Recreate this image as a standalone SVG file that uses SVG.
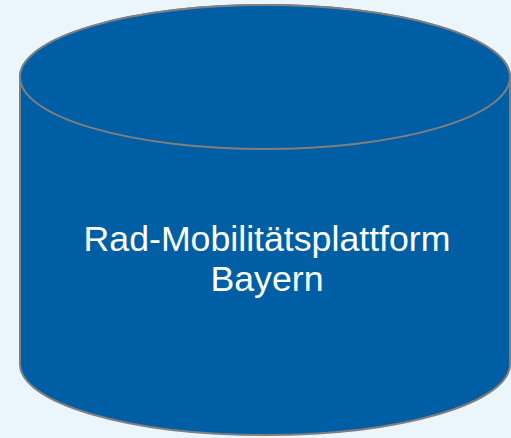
<svg xmlns="http://www.w3.org/2000/svg" width="511" height="438" viewBox="0 0 511 438">
<style>
.body{fill:#005FA4;stroke:#7F7F7F;stroke-width:2}
.lbl{font-family:"Liberation Sans",Arial,sans-serif;font-size:35.7px;fill:#FFFFFF;text-anchor:middle}
</style>
<rect width="511" height="438" fill="#EAF5FC"/>
<g id="cylinder">
<path class="body" d="M20,77 L20,364 A245,71 0 0 0 510,364 L510,77 A245,72 0 0 0 20,77 Z"/>
<ellipse class="body" cx="265" cy="77" rx="245" ry="72"/>
<text class="lbl" x="267" y="251">Rad-Mobilitätsplattform</text>
<text class="lbl" x="267" y="291">Bayern</text>
</g>
<g id="connectors"/>
</svg>
